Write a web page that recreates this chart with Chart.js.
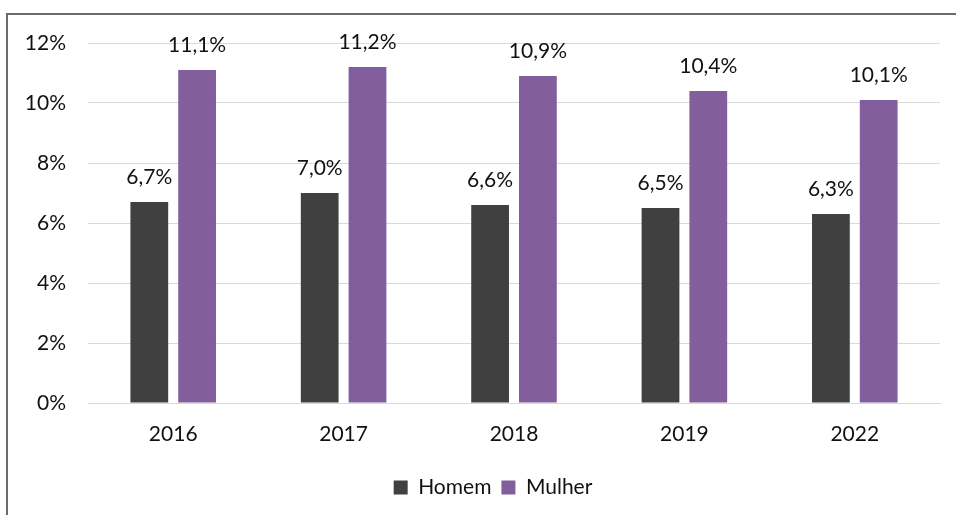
<!DOCTYPE html>
<html>
<head>
<meta charset="utf-8">
<script src="https://cdn.jsdelivr.net/npm/chart.js@4.4.1/dist/chart.umd.min.js"></script>
<style>
  html, body { margin: 0; padding: 0; background: #fff; overflow: hidden; }
  #wrap { position: relative; width: 956px; height: 515px; overflow: hidden; }
  #frame { position: absolute; left: 6px; top: 13px; width: 2000px; height: 2000px;
           border-left: 2px solid #6b6b6b; border-top: 2px solid #6b6b6b; }
  canvas { position: absolute; left: 0; top: 0; }
</style>
</head>
<body>
<div id="wrap">
  <div id="frame"></div>
  <canvas id="chart" width="956" height="515"></canvas>
</div>
<script>
const years = ['2016', '2017', '2018', '2019', '2022'];
const homem = [6.7, 7.0, 6.6, 6.5, 6.3];
const mulher = [11.1, 11.2, 10.9, 10.4, 10.1];
const yTicks = [0, 2, 4, 6, 8, 10, 12];

const FONT = 'Lato';
const TEXT = '#111';

// rótulos acima das barras
const barLabels = {
  id: 'barLabels',
  afterDatasetsDraw(chart) {
    const ctx = chart.ctx;
    ctx.save();
    ctx.font = `21px ${FONT}`;
    ctx.fillStyle = TEXT;
    ctx.textAlign = 'center';
    ctx.textBaseline = 'alphabetic';
    chart.data.datasets.forEach((ds, i) => {
      chart.getDatasetMeta(i).data.forEach((bar, j) => {
        const txt = ds.data[j].toFixed(1).replace('.', ',') + '%';
        ctx.fillText(txt, bar.x, bar.y - 18);
      });
    });
    ctx.restore();
  }
};

// legenda centrada um pouco mais à direita, como no original
const legendShift = {
  id: 'legendShift',
  afterLayout(chart) {
    if (chart.legend) chart.legend.left = 46;
  }
};

new Chart(document.getElementById('chart'), {
  type: 'bar',
  data: {
    labels: years,
    datasets: [
      { label: 'Homem', data: homem, backgroundColor: '#404040', borderWidth: 0 },
      { label: 'Mulher', data: mulher, backgroundColor: '#825E9C', borderWidth: 0 }
    ]
  },
  options: {
    responsive: false,
    animation: false,
    devicePixelRatio: 1,
    categoryPercentage: 0.561,
    barPercentage: 0.79,
    layout: { padding: { top: 43, right: 16, bottom: 7, left: 0 } },
    scales: {
      y: {
        min: 0,
        max: 12,
        afterBuildTicks(scale) { scale.ticks = yTicks.map(v => ({ value: v })); },
        afterFit(scale) { scale.width = 88; },
        ticks: {
          padding: 22,
          color: TEXT,
          font: { family: FONT, size: 21 },
          callback: v => v + '%'
        },
        grid: { color: '#d9d9d9', lineWidth: 1, drawTicks: false },
        border: { display: false }
      },
      x: {
        afterFit(scale) { scale.height = 64; },
        ticks: {
          padding: 19,
          color: TEXT,
          font: { family: FONT, size: 21 }
        },
        grid: { display: false, drawTicks: false },
        border: { color: '#d9d9d9', width: 1 }
      }
    },
    plugins: {
      legend: {
        display: true,
        position: 'bottom',
        labels: {
          boxWidth: 14,
          boxHeight: 14,
          padding: 10,
          color: TEXT,
          font: { family: FONT, size: 21 }
        }
      },
      tooltip: { enabled: false }
    }
  },
  plugins: [barLabels, legendShift]
});
</script>
</body>
</html>
